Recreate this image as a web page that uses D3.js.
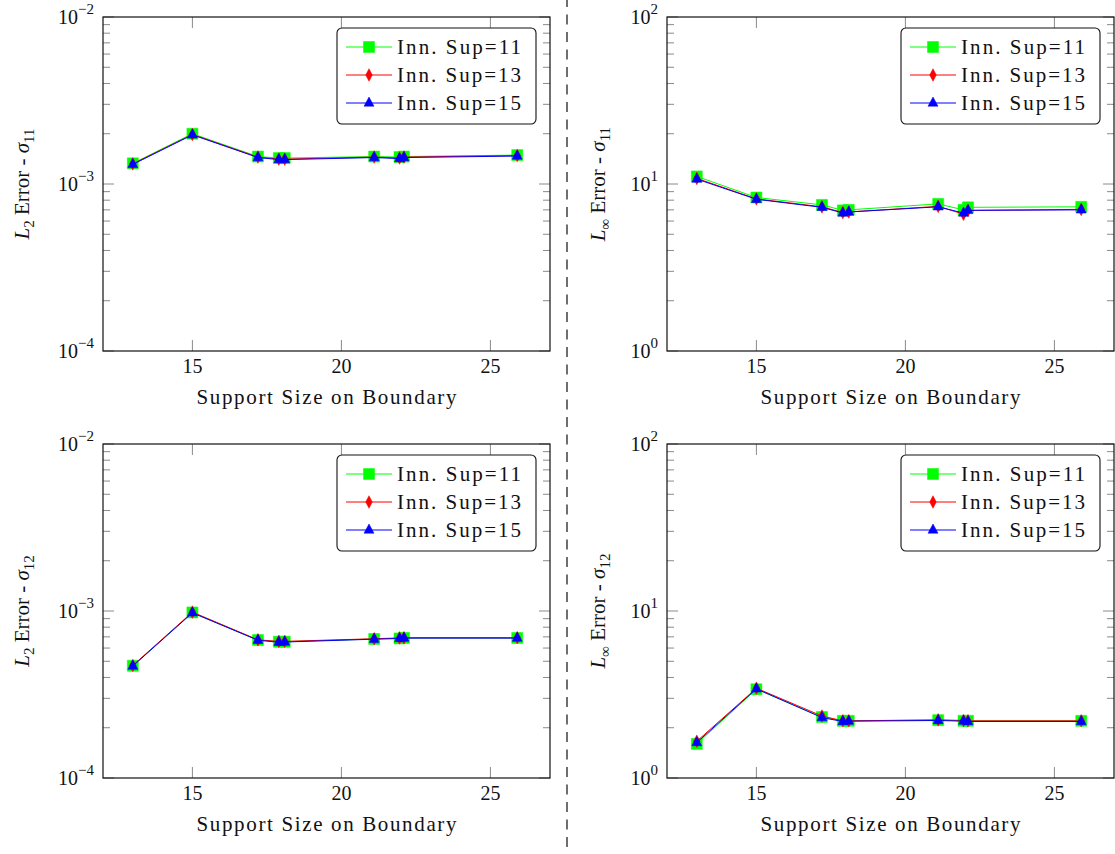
<!DOCTYPE html>
<html>
<head>
<meta charset="utf-8">
<script src="https://cdnjs.cloudflare.com/ajax/libs/d3/7.8.5/d3.min.js"></script>
<style>
  body { margin: 0; background: #fff; }
  svg { display: block; font-family: 'Liberation Serif', 'Times New Roman', serif; }
</style>
</head>
<body>
<svg id="chart" width="1115" height="854"></svg>
<script>
// shared x values: support size on boundary
const supportSize = [13, 15, 17.2, 17.9, 18.1, 21.1, 21.95, 22.1, 25.9];
const seriesLabels = ['Inn. Sup=11', 'Inn. Sup=13', 'Inn. Sup=15'];
const xTickValues = [15, 20, 25];
const xLabel = 'Support Size on Boundary';

// L2 error - sigma11
const l2S11Sup11 = [1.33e-3, 2.00e-3, 1.46e-3, 1.43e-3, 1.43e-3, 1.46e-3, 1.45e-3, 1.46e-3, 1.49e-3];
const l2S11Sup13 = [1.32e-3, 1.98e-3, 1.45e-3, 1.41e-3, 1.41e-3, 1.45e-3, 1.43e-3, 1.45e-3, 1.48e-3];
const l2S11Sup15 = [1.31e-3, 1.97e-3, 1.44e-3, 1.40e-3, 1.40e-3, 1.44e-3, 1.42e-3, 1.44e-3, 1.47e-3];

// Linf error - sigma11
const linfS11Sup11 = [11.1, 8.3, 7.5, 6.95, 7.0, 7.6, 7.0, 7.25, 7.3];
const linfS11Sup13 = [10.8, 8.15, 7.3, 6.75, 6.8, 7.35, 6.6, 6.95, 7.05];
const linfS11Sup15 = [10.7, 8.1, 7.25, 6.7, 6.8, 7.3, 6.7, 6.95, 7.0];

// L2 error - sigma12
const l2S12Sup11 = [4.70e-4, 9.80e-4, 6.70e-4, 6.55e-4, 6.55e-4, 6.80e-4, 6.85e-4, 6.90e-4, 6.90e-4];
const l2S12Sup13 = [4.72e-4, 9.85e-4, 6.72e-4, 6.58e-4, 6.58e-4, 6.82e-4, 6.90e-4, 6.92e-4, 6.92e-4];
const l2S12Sup15 = [4.68e-4, 9.75e-4, 6.68e-4, 6.50e-4, 6.52e-4, 6.78e-4, 6.85e-4, 6.88e-4, 6.88e-4];

// Linf error - sigma12
const linfS12Sup11 = [1.60, 3.40, 2.32, 2.20, 2.20, 2.22, 2.20, 2.20, 2.20];
const linfS12Sup13 = [1.66, 3.45, 2.35, 2.20, 2.20, 2.23, 2.21, 2.20, 2.20];
const linfS12Sup15 = [1.63, 3.42, 2.30, 2.18, 2.19, 2.21, 2.19, 2.18, 2.18];

const colors = ['#00ff00', '#ff0000', '#0000ff'];
const markerPaths = [
  'M-5.5,-5.5H5.5V5.5H-5.5Z',          // square
  'M0,-6.3L3.3,0L0,6.3L-3.3,0Z',       // diamond
  'M0,-6L5,3.2L-5,3.2Z'                // triangle
];

const svg = d3.select('#chart');

// dashed separator between columns
svg.append('line')
  .attr('x1', 567).attr('x2', 567)
  .attr('y1', 0).attr('y2', 854)
  .attr('stroke', '#222')
  .attr('stroke-width', 1.3)
  .attr('stroke-dasharray', '10,7.5')
  .attr('stroke-dashoffset', 3);

const panels = [
  {left: 103, top: 17, yDomain: [1e-4, 1e-2], norm: '2', comp: '11', labelX: 22,
    series: [l2S11Sup11, l2S11Sup13, l2S11Sup15]},
  {left: 667, top: 17, yDomain: [1, 100], norm: '\u221e', comp: '11', labelX: 598,
    series: [linfS11Sup11, linfS11Sup13, linfS11Sup15]},
  {left: 103, top: 444, yDomain: [1e-4, 1e-2], norm: '2', comp: '12', labelX: 22,
    series: [l2S12Sup11, l2S12Sup13, l2S12Sup15]},
  {left: 667, top: 444, yDomain: [1, 100], norm: '\u221e', comp: '12', labelX: 598,
    series: [linfS12Sup11, linfS12Sup13, linfS12Sup15]}
];

const width = 447, height = 334;

panels.forEach(drawPanel);

function drawPanel(p) {
  const g = svg.append('g')
    .attr('transform', 'translate(' + p.left + ',' + p.top + ')');

  const x = d3.scaleLinear().domain([12, 27]).range([0, width]);
  const y = d3.scaleLog().domain(p.yDomain).range([height, 0]);

  const e0 = Math.round(Math.log10(p.yDomain[0]));
  const e1 = Math.round(Math.log10(p.yDomain[1]));
  const majors = d3.range(e0, e1 + 1);
  const minors = [];
  for (let e = e0; e < e1; e++) {
    for (let k = 2; k <= 9; k++) minors.push(k * Math.pow(10, e));
  }

  const tickColor = '#8a8a8a';
  // y ticks, inside on both sides
  majors.forEach(function (e) {
    const yy = y(Math.pow(10, e));
    g.append('line').attr('x1', 0).attr('x2', 11).attr('y1', yy).attr('y2', yy)
      .attr('stroke', tickColor);
    g.append('line').attr('x1', width - 11).attr('x2', width).attr('y1', yy).attr('y2', yy)
      .attr('stroke', tickColor);
    const t = g.append('text')
      .attr('x', -9).attr('y', yy + 7)
      .attr('text-anchor', 'end')
      .attr('font-size', 20)
      .attr('fill', '#111');
    t.append('tspan').text('10');
    t.append('tspan').attr('dy', -10).attr('font-size', 15)
      .text(e < 0 ? '\u2212' + (-e) : String(e));
  });
  minors.forEach(function (v) {
    const yy = y(v);
    g.append('line').attr('x1', 0).attr('x2', 7).attr('y1', yy).attr('y2', yy)
      .attr('stroke', tickColor);
    g.append('line').attr('x1', width - 7).attr('x2', width).attr('y1', yy).attr('y2', yy)
      .attr('stroke', tickColor);
  });

  // x ticks, bottom and top
  xTickValues.forEach(function (v) {
    const xx = x(v);
    g.append('line').attr('x1', xx).attr('x2', xx).attr('y1', height).attr('y2', height - 11)
      .attr('stroke', tickColor);
    g.append('line').attr('x1', xx).attr('x2', xx).attr('y1', 0).attr('y2', 11)
      .attr('stroke', tickColor);
    g.append('text')
      .attr('x', xx).attr('y', height + 22)
      .attr('text-anchor', 'middle')
      .attr('font-size', 20)
      .attr('fill', '#111')
      .text(v);
  });

  // axis labels
  g.append('text')
    .attr('x', width / 2).attr('y', height + 53)
    .attr('text-anchor', 'middle')
    .attr('font-size', 21)
    .attr('textLength', 260)
    .attr('lengthAdjust', 'spacing')
    .attr('fill', '#111')
    .text(xLabel);

  const yl = svg.append('text')
    .attr('transform', 'translate(' + (p.labelX + 7) + ',' + (p.top + height / 2) + ') rotate(-90)')
    .attr('text-anchor', 'middle')
    .attr('font-size', 21)
    .attr('fill', '#111');
  yl.append('tspan').attr('font-style', 'italic').text('L');
  yl.append('tspan').attr('dy', 5).attr('font-size', 15).text(p.norm);
  yl.append('tspan').attr('dy', -5).text(' Error - ');
  yl.append('tspan').attr('font-style', 'italic').text('\u03c3');
  yl.append('tspan').attr('dy', 5).attr('font-size', 15).text(p.comp);

  // series: line then markers, drawn in order so blue ends on top
  const line = d3.line()
    .x(function (d, i) { return x(supportSize[i]); })
    .y(function (d) { return y(d); });

  p.series.forEach(function (values, s) {
    g.append('path')
      .attr('d', line(values))
      .attr('fill', 'none')
      .attr('stroke', colors[s])
      .attr('stroke-width', 1);
    g.selectAll(null)
      .data(values)
      .enter().append('path')
      .attr('d', markerPaths[s])
      .attr('transform', function (d, i) {
        return 'translate(' + x(supportSize[i]) + ',' + y(d) + ')';
      })
      .attr('fill', colors[s])
      .attr('stroke', colors[s])
      .attr('stroke-width', 0.5);
  });

  // frame
  g.append('rect')
    .attr('width', width).attr('height', height)
    .attr('fill', 'none')
    .attr('stroke', '#111')
    .attr('stroke-width', 1.2);

  // legend
  const lx = width - 213, ly = 11;
  const legend = g.append('g').attr('transform', 'translate(' + lx + ',' + ly + ')');
  legend.append('rect')
    .attr('width', 199).attr('height', 96)
    .attr('rx', 5).attr('ry', 5)
    .attr('fill', '#fff')
    .attr('stroke', '#111')
    .attr('stroke-width', 1.1);
  seriesLabels.forEach(function (label, s) {
    const ry = 19 + s * 28;
    legend.append('line')
      .attr('x1', 9).attr('x2', 55).attr('y1', ry).attr('y2', ry)
      .attr('stroke', colors[s]).attr('stroke-width', 1);
    legend.append('path')
      .attr('d', markerPaths[s])
      .attr('transform', 'translate(32,' + ry + ')')
      .attr('fill', colors[s]).attr('stroke', colors[s]).attr('stroke-width', 0.5);
    legend.append('text')
      .attr('x', 60).attr('y', ry + 7)
      .attr('font-size', 21)
      .attr('textLength', 124)
      .attr('lengthAdjust', 'spacing')
      .attr('fill', '#111')
      .text(label);
  });
}
</script>
</body>
</html>
